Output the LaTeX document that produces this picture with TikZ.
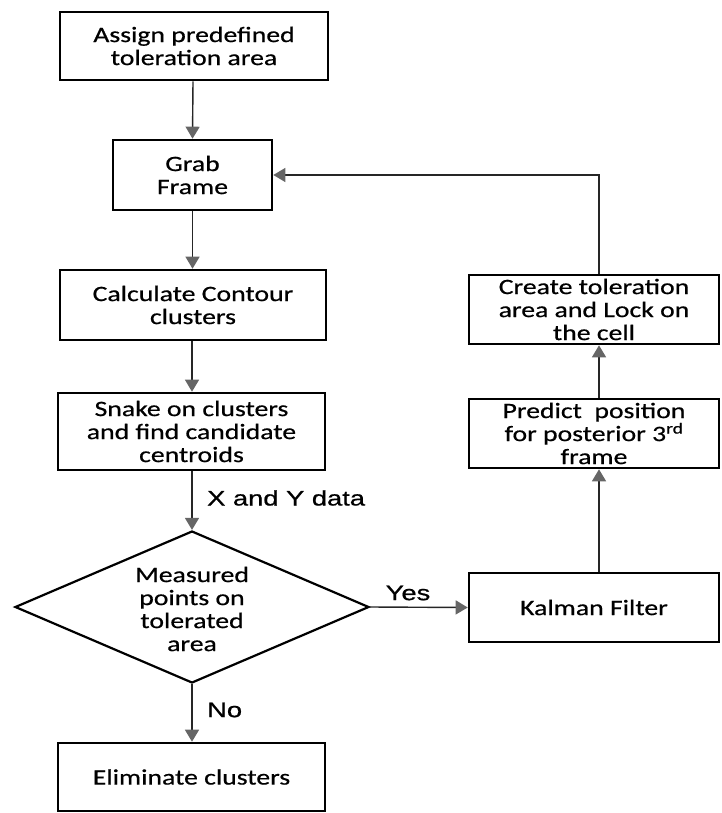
\documentclass[tikz,border=0pt]{standalone}
\usepackage{fontspec}
\usetikzlibrary{shapes.geometric,arrows.meta}
\newfontfamily\boxfont[FakeStretch=1.26,FakeBold=0.6]{Carlito}
\newfontfamily\labfont[FakeStretch=1.3,FakeBold=0.8]{Liberation Sans}
\begin{document}
\begin{tikzpicture}[x=1pt,y=-1pt,
  box/.style={draw=black,line width=2.6pt,rectangle,inner sep=0pt,align=center,
    font=\boxfont\fontsize{22}{23}\selectfont,text=black},
  lbox/.style={box,minimum width=267pt,minimum height=69pt},
  rbox/.style={box,minimum width=250pt,minimum height=69pt},
  flow/.style={draw=black!85,line width=1.4pt,
    -{Triangle[width=14pt,length=12pt,color=black!60]}},
  lab/.style={font=\labfont\fontsize{21}{24}\selectfont,inner sep=0pt,text=black}]
\useasboundingbox (0,0) rectangle (721,813);

% left column
\node[lbox,minimum width=268pt,minimum height=68pt] (assign) at (194,46) {Assign predefined\\toleration area};
\node[box,minimum width=159pt,minimum height=70pt] (grab) at (192.5,175) {Grab\\Frame};
\node[lbox,minimum width=266pt,minimum height=70pt] (calc) at (193,305) {Calculate Contour\\clusters};
\node[lbox,minimum height=77pt] (snake) at (191.5,431.5) {Snake on clusters\\and find candidate\\centroids};
\node[draw=black,line width=2.2pt,diamond,minimum width=354pt,minimum height=152pt,inner sep=0pt] (dec) at (192,607) {};
\node[align=center,font=\boxfont\fontsize{22}{23}\selectfont,text=black] (dectext) at (192,609) {Measured\\points on\\tolerated\\area};
\node[lbox,minimum height=68pt] (elim) at (191.5,777) {Eliminate clusters};

% right column
\node[rbox] (create) at (594,309.5) {Create toleration\\area and Lock on\\the cell};
\node[rbox] (predict) at (594,433.5) {Predict~ position\\for posterior 3\textsuperscript{rd}\\frame};
\node[rbox] (kalman) at (594,607.5) {Kalman Filter};

% connectors
\draw[flow] ([xshift=-1pt]assign.south) -- (grab.north);
\draw[flow] (grab.south) -- ([xshift=-0.5pt]calc.north);
\draw[flow] ([xshift=-1pt]calc.south) -- ([xshift=0.5pt]snake.north);
\draw[flow] ([xshift=0.5pt]snake.south) -- (dec.north);
\draw[flow] (dec.east) -- (kalman.west);
\draw[flow] (dec.south) -- ([xshift=0.5pt]elim.north);
\draw[flow] ([xshift=5pt]kalman.north) -- ([xshift=5pt]predict.south);
\draw[flow] ([xshift=5pt]predict.north) -- ([xshift=5pt]create.south);
\draw[flow] ([xshift=5pt]create.north) |- (grab.east);

% connector labels
\node[lab,anchor=west] (xy) at (207,498) {X and Y data};
\node[lab] (yes) at (408,593) {Yes};
\node[lab,anchor=west] (no) at (207,710) {No};
\end{tikzpicture}
\end{document}
